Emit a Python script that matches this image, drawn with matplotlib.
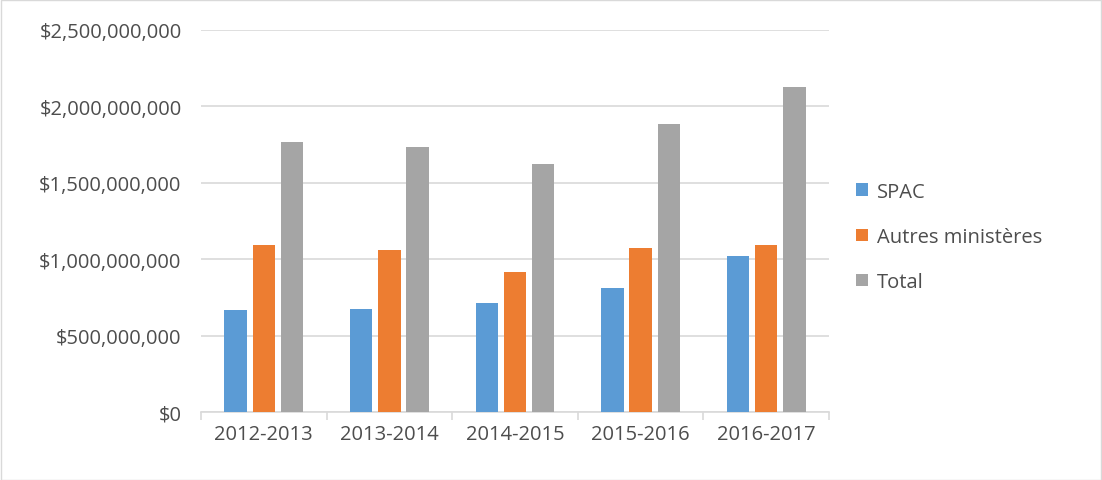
import matplotlib.pyplot as plt
import numpy as np
from matplotlib.ticker import FuncFormatter

years = ["2012-2013", "2013-2014", "2014-2015", "2015-2016", "2016-2017"]
spac = [665e6, 674e6, 711e6, 809e6, 1024e6]
autres = [1096e6, 1057e6, 913e6, 1076e6, 1096e6]
total = [1767e6, 1735e6, 1624e6, 1885e6, 2126e6]

plt.rcParams['font.family'] = ['Open Sans', 'DejaVu Sans']
txt = '#4d4d4d'

fig = plt.figure(figsize=(11.02, 4.81), dpi=100)
ax = fig.add_axes([201/1102, 1-413/481, 628/1102, 382/481])

x = np.arange(len(years))
w = 0.178
step = 0.225
ax.bar(x - step, spac, w, color='#5B9BD5', label='SPAC', zorder=3)
ax.bar(x, autres, w, color='#ED7D31', label='Autres ministères', zorder=3)
ax.bar(x + step, total, w, color='#A5A5A5', label='Total', zorder=3)

ax.set_xlim(-0.5, len(years) - 0.5)
ax.set_ylim(0, 2.5e9)
ax.set_yticks(np.arange(0, 2.51e9, 5e8))
ax.yaxis.set_major_formatter(FuncFormatter(lambda v, p: "${:,.0f}".format(v)))
ax.grid(axis='y', color='#D9D9D9', linewidth=1.2, zorder=0)
ax.set_xticks(x)
ax.set_xticklabels(years)
ax.set_xticks(np.arange(-0.5, len(years), 1), minor=True)
ax.tick_params(axis='x', which='major', length=0, pad=9, labelsize=14.5, colors=txt)
ax.tick_params(axis='x', which='minor', length=6, color='#D9D9D9', width=1.2)
ax.tick_params(axis='y', length=0, pad=14, labelsize=14.5, colors=txt)
for s in ['top', 'right', 'left']:
    ax.spines[s].set_visible(False)
ax.spines['bottom'].set_color('#D9D9D9')
ax.spines['bottom'].set_linewidth(1.2)

fig.legend(loc='center left', bbox_to_anchor=(838/1102, 1-238/481), frameon=False,
           fontsize=14.5, labelcolor=txt, handlelength=0.6, handleheight=0.6,
           labelspacing=1.25, handletextpad=0.45)

fig.patches.append(plt.Rectangle((0.001, 0.001), 0.998, 0.997, transform=fig.transFigure,
                                 fill=False, edgecolor='#D9D9D9', linewidth=1))

plt.savefig('out.png', dpi=100)
